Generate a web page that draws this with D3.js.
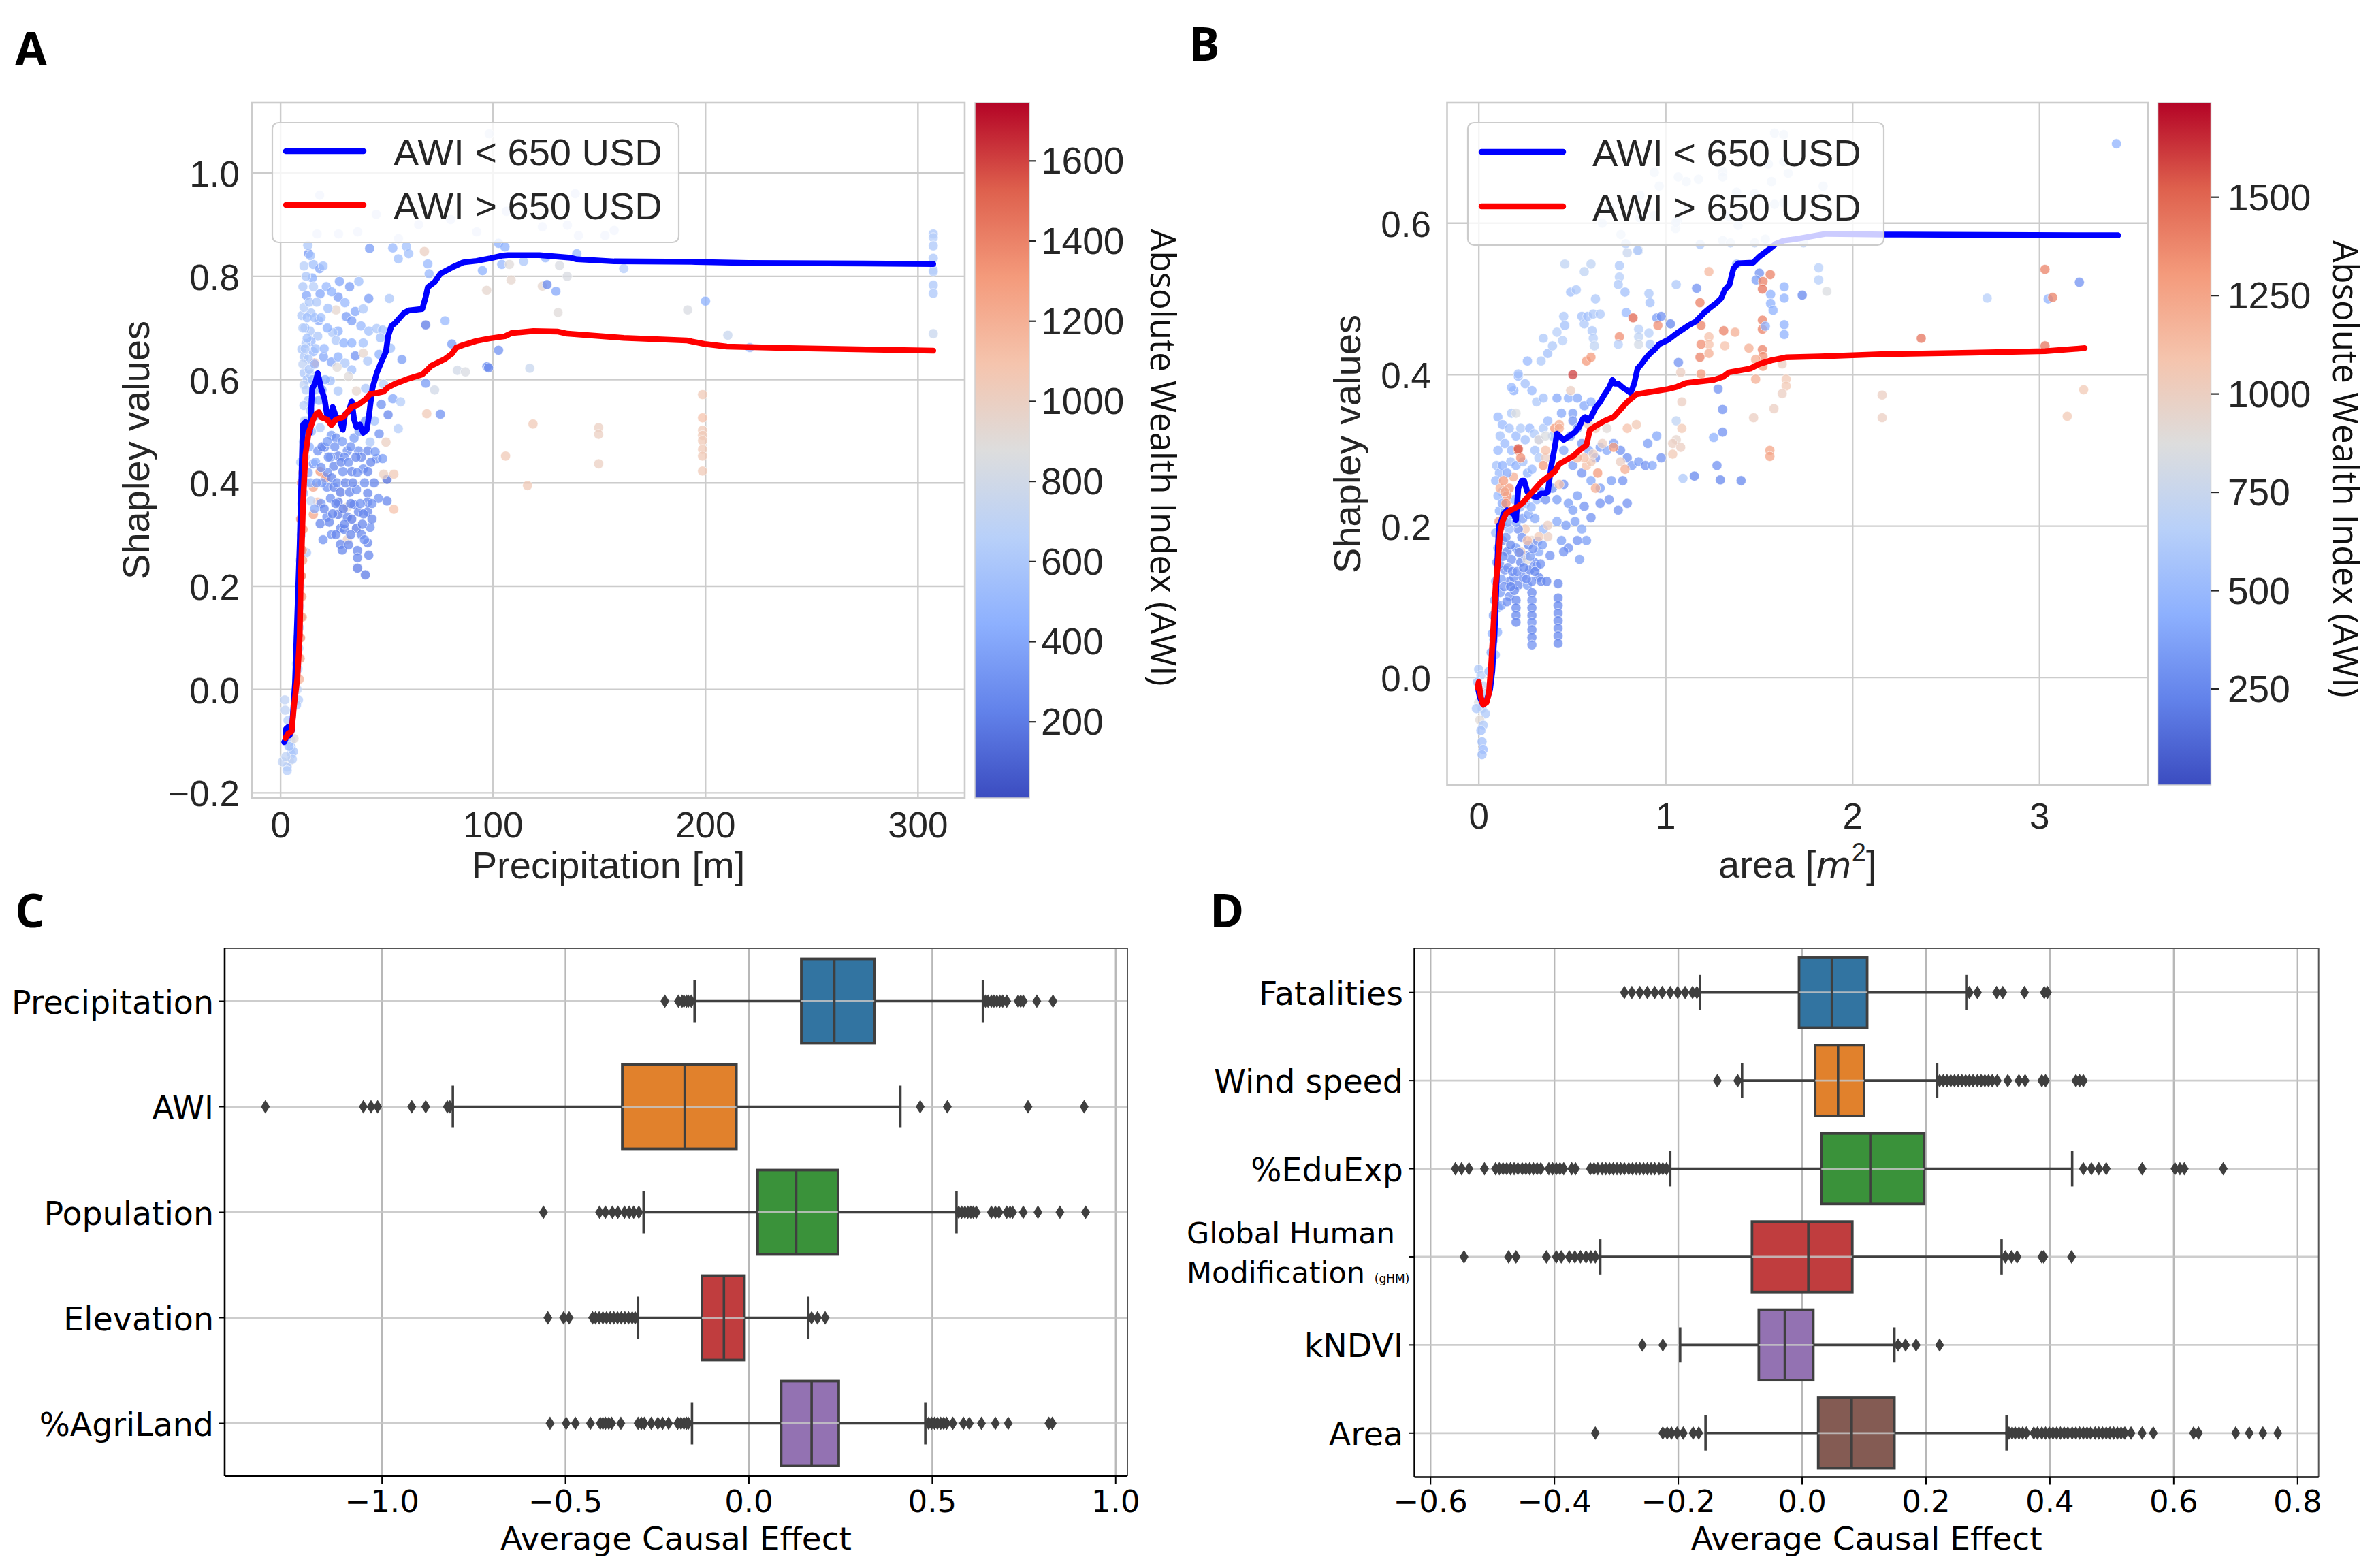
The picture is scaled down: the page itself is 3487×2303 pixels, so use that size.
<!DOCTYPE html>
<html><head><meta charset="utf-8">
<script src="https://cdn.jsdelivr.net/npm/d3@7"></script>
<style>body{margin:0;background:#fff}svg{display:block}</style>
</head><body>
<script>
// ---------------- DATA ----------------
// Panel A: [precipitation, shapley, AWI]
const pointsA = [
[13.2,0.844,300],[41.9,0.854,350],[52.8,0.855,500],[59.2,0.858,550],[55.4,0.834,550],[60.3,0.844,550],[67.7,0.848,1000],[69.3,0.824,500],[69.9,0.805,500],[15.4,0.823,550],[18.4,0.815,400],[14.9,0.797,450],[27.7,0.79,400],[32.5,0.78,350],[36.8,0.79,550],[12.2,0.763,400],[18.6,0.766,400],[27.1,0.76,350],[30.3,0.749,500],[41.5,0.757,350],[51.2,0.757,600],[26.1,0.735,950],[22.3,0.738,550],[35.2,0.732,400],[38.9,0.737,600],[30.9,0.722,350],[33.5,0.714,350],[10.0,0.724,600],[14.3,0.729,600],[18.0,0.714,400],[37.8,0.704,500],[41.5,0.694,550],[27.1,0.694,450],[24.5,0.691,600],[45.3,0.699,600],[48.0,0.696,550],[68.3,0.706,200],[77.4,0.714,500],[13.8,0.694,600],[17.5,0.684,600],[26.1,0.676,600],[29.8,0.671,450],[33.5,0.671,450],[38.9,0.671,550],[47.0,0.681,550],[51.7,0.661,550],[14.3,0.674,500],[10.0,0.659,600],[11.1,0.644,600],[15.4,0.654,500],[20.2,0.644,400],[23.9,0.634,400],[27.1,0.644,450],[30.3,0.632,600],[35.2,0.646,300],[38.9,0.651,950],[41.0,0.636,600],[46.4,0.649,450],[57.1,0.639,350],[15.9,0.632,1300],[26.6,0.624,900],[33.5,0.619,550],[11.1,0.613,600],[23.4,0.598,550],[27.1,0.578,600],[32.0,0.606,900],[35.7,0.578,950],[40.0,0.583,600],[48.5,0.591,650],[80.6,0.669,350],[83.2,0.618,800],[87.0,0.615,850],[97.1,0.625,300],[68.3,0.593,350],[72.5,0.580,800],[68.8,0.534,1050],[75.2,0.533,300],[52.8,0.563,400],[56.5,0.557,650],[47.4,0.552,300],[50.6,0.532,250],[44.2,0.520,550],[55.4,0.505,650],[46.4,0.495,300],[49.6,0.479,1000],[42.1,0.479,600],[18.6,0.507,600],[23.9,0.492,350],[26.1,0.487,300],[34.6,0.487,350],[20.7,0.469,300],[17.5,0.462,300],[27.1,0.452,250],[31.4,0.462,300],[36.7,0.462,300],[41.0,0.462,250],[45.3,0.447,300],[48.0,0.447,350],[25.0,0.432,250],[29.3,0.422,300],[33.5,0.422,250],[38.9,0.427,300],[41.0,0.422,250],[50.1,0.407,150],[48.5,0.417,1000],[53.3,0.417,1050],[15.4,0.437,300],[18.6,0.422,1300],[21.3,0.410,1350],[15.4,0.392,1250],[21.8,0.392,300],[25.0,0.392,250],[28.2,0.382,200],[32.5,0.382,250],[35.7,0.387,300],[41.0,0.380,250],[17.5,0.363,1100],[27.1,0.363,200],[31.4,0.353,950],[34.6,0.358,250],[41.0,0.363,250],[50.1,0.365,250],[53.3,0.349,1100],[15.4,0.339,1250],[21.8,0.334,300],[27.1,0.339,200],[31.4,0.334,250],[36.7,0.344,250],[41.0,0.344,250],[18.6,0.321,250],[22.9,0.324,250],[28.2,0.312,250],[35.7,0.312,200],[42.1,0.314,300],[31.4,0.29,1000],[28.2,0.281,250],[36.2,0.269,250],[41.0,0.284,250],[36.2,0.255,250],[36.2,0.235,200],[39.9,0.222,200],[12.2,0.265,600],[14.3,0.365,700],
[10.5,0.78,600],[11.5,0.70,550],[12.0,0.67,600],[12.5,0.60,550],[13.0,0.56,600],[11.0,0.55,650],[12.0,0.52,600],[10.8,0.48,650],[11.5,0.45,700],[13.5,0.47,450],[14.5,0.50,500],[15.0,0.56,550],[16.0,0.58,500],[16.5,0.66,550],[14.0,0.61,650],[13.0,0.64,600],[12.5,0.72,550],[11.0,0.74,650],[13.5,0.75,600],[16.0,0.72,550],[17.0,0.75,600],[15.5,0.78,650],[12.0,0.80,600],[14.0,0.84,550],[10.5,0.63,700],[11.0,0.59,700],[16.5,0.44,450],[13.0,0.42,400],[12.0,0.40,500],[14.0,0.40,450],[19.5,0.40,350],[19.0,0.36,300],[22.0,0.42,300],[23.5,0.45,350],[20.0,0.29,300],[24.0,0.30,300],[30.0,0.31,250],[33.0,0.30,250],[38.0,0.30,250],[30.0,0.45,300],[37.0,0.50,350],[40.0,0.52,300],[44.0,0.40,250],[46.0,0.37,300],[43.0,0.33,250],
[19.5,0.47,250],[22.5,0.45,300],[24.0,0.41,250],[26.5,0.40,300],[28.5,0.44,250],[30.5,0.40,250],[32.0,0.44,300],[34.0,0.40,250],[36.0,0.42,300],[38.0,0.45,250],[39.5,0.40,300],[42.5,0.44,250],[44.5,0.46,350],[20.5,0.35,250],[23.5,0.37,300],[26.0,0.36,250],[29.5,0.35,200],[33.0,0.36,250],[37.5,0.36,300],[39.0,0.34,250],[43.0,0.36,300],[24.5,0.34,250],[30.0,0.32,250],[33.5,0.33,200],[38.5,0.32,250],[26.0,0.30,250],[29.0,0.27,250],[32.0,0.28,250],[39.5,0.29,300],[41.5,0.26,250],[22.0,0.48,350],[25.5,0.47,300],[29.0,0.48,350],[33.0,0.47,300],[35.5,0.45,250],[19.0,0.43,300],[17.0,0.40,350],[16.0,0.35,400],
[10.5,0.70,650],[11.5,0.66,600],[12.5,0.68,550],[13.5,0.62,600],[12.0,0.58,650],[11.2,0.52,700],[13.0,0.50,550],[14.0,0.54,600],[15.0,0.60,550],[16.0,0.63,500],[17.5,0.60,450],[16.5,0.53,500],[18.0,0.56,450],[19.5,0.58,400],[21.0,0.60,450],[20.5,0.66,500],[22.0,0.70,450],[19.0,0.72,550],[21.5,0.78,500],[24.0,0.77,450],[20.0,0.82,550],[11.0,0.82,650],[12.8,0.86,600],
[9.5,0.44,600],[9.8,0.40,1300],[10.0,0.36,700],[9.5,0.33,1400],[9.8,0.30,650],[10.2,0.27,1350],[9.2,0.25,700],[9.8,0.22,1400],[9.3,0.20,750],[10.0,0.18,1300],[9.0,0.16,700],[9.6,0.14,1450],[8.8,0.12,650],[9.4,0.10,1350],[8.6,0.08,700],[9.2,0.06,1300],[8.2,0.04,650],[8.8,0.02,1200],[7.8,0.00,700],[8.4,-0.02,650],[7.5,-0.03,600],[10.5,0.42,1200],[10.6,0.31,1300],[10.4,0.25,1250],[10.2,0.14,1200],[8.0,0.10,700],[7.5,0.05,650],[10.8,0.38,500],
[5.0,-0.099,600],[5.0,-0.112,600],[5.0,-0.125,550],[4.2,-0.139,900],[3.1,-0.150,600],[3.1,-0.157,650],[0.9,-0.14,700],[2.0,-0.02,700],[2.2,-0.04,700],[6.3,-0.095,900],[4.5,-0.08,700],[3.5,-0.06,650],[2.8,-0.10,700],[6.0,-0.12,600],[4.0,-0.11,550],[5.5,-0.135,650],[2.5,-0.13,700],
[98.2,1.076,750],[138.7,0.96,700],[106.3,0.926,700],[123.2,0.896,700],[135.0,0.899,700],[140.2,0.879,700],[152.7,0.879,700],[157.0,0.889,700],[92.3,0.886,700],[102.6,0.864,450],[105.6,0.857,450],[139.4,0.844,500],[95.0,0.811,450],[104.1,0.823,500],[114.4,0.829,600],[124.7,0.836,500],[107.7,0.823,900],[131.3,0.821,850],[161.5,0.815,650],[134.9,0.80,850],[108.5,0.793,950],[97.0,0.773,950],[123.2,0.781,950],[125.4,0.784,250],[129.6,0.771,400],[130.6,0.730,900],[191.6,0.735,850],[200,0.752,450],[210.5,0.686,750],[220.8,0.662,500],[102.6,0.657,300],[97.9,0.623,250],[117.3,0.622,750],
[307.2,0.882,600],[307.2,0.875,650],[307.2,0.859,600],[307.2,0.835,600],[307.2,0.812,600],[307.2,0.809,650],[307.2,0.783,600],[307.2,0.767,600],[307.2,0.689,750],
[198.6,0.571,1050],[198.6,0.526,1100],[198.6,0.502,1050],[198.6,0.492,1050],[198.6,0.482,1050],[198.6,0.465,1050],[198.6,0.452,1050],[198.6,0.423,1050],
[118.8,0.514,1050],[149.7,0.507,1000],[149.7,0.494,1000],[149.7,0.437,1000],[105.9,0.452,1050],[116.2,0.395,1050],
[18.4,0.957,700],[27.3,0.882,700],[36.3,0.886,700],[17.2,0.882,700],[55.5,0.873,700],[65,0.90,700],[80,0.91,700],[45,0.92,700]
];
// Panel A lines: [precipitation, shapley]
const lineA_low = [[1.7,-0.102],[2.3,-0.097],[2.6,-0.076],[3.7,-0.072],[4.2,-0.089],[5.3,-0.079],[6.8,0.013],[7.9,0.147],[9.0,0.281],[9.5,0.361],[10.3,0.488],[10.6,0.513],[11.7,0.518],[12.7,0.512],[13.8,0.497],[14.9,0.583],[16.2,0.592],[17.5,0.6125],[19.1,0.583],[20.7,0.563],[21.8,0.533],[23.4,0.523],[24.5,0.547],[26.1,0.528],[27.7,0.523],[29.3,0.503],[30.3,0.533],[32.0,0.538],[33.5,0.558],[34.6,0.523],[35.7,0.508],[37.3,0.513],[38.9,0.497],[40.5,0.502],[41.5,0.527],[43.2,0.583],[45.3,0.613],[47.4,0.634],[49.6,0.654],[50.6,0.684],[52.2,0.704],[53.8,0.709],[58.1,0.729],[60.3,0.734],[66.7,0.737],[68.3,0.760],[69.3,0.779],[72.5,0.789],[75.2,0.805],[80.6,0.817],[85.9,0.827],[92.3,0.830],[98.7,0.835],[104.1,0.840],[107.0,0.841],[121.8,0.841],[136.5,0.836],[139.4,0.833],[157.0,0.829],[195.3,0.828],[220.3,0.826],[307.2,0.824]];
const lineA_high = [[2.3,-0.094],[3.6,-0.085],[5.2,-0.081],[6.3,-0.032],[7.9,0.022],[9.0,0.102],[9.5,0.214],[10.0,0.281],[10.6,0.361],[11.7,0.454],[13.2,0.497],[15.4,0.523],[17.0,0.535],[18.0,0.537],[19.1,0.527],[21.8,0.523],[23.9,0.512],[26.1,0.523],[29.3,0.527],[31.4,0.537],[33.5,0.547],[36.8,0.552],[40.0,0.562],[42.1,0.572],[45.3,0.574],[48.5,0.577],[50.6,0.585],[53.8,0.592],[60.3,0.602],[66.7,0.610],[68.8,0.618],[71.0,0.627],[77.4,0.640],[80.6,0.650],[82.7,0.662],[85.9,0.667],[92.3,0.675],[98.7,0.680],[105.6,0.684],[108.6,0.690],[119,0.694],[130.6,0.693],[135,0.689],[161.5,0.681],[191,0.676],[199.7,0.669],[210,0.664],[239.5,0.661],[307.2,0.656]];

// Panel B: [area, shapley, AWI]
const pointsB = [
[-0.001,0.011,600],[0.011,0.003,650],[-0.007,-0.006,550],[0.023,-0.011,700],[0.005,-0.016,800],[0.029,-0.026,650],[-0.001,-0.033,850],[0.017,-0.041,700],[0.035,-0.048,600],[0.005,-0.056,900],[0.023,-0.063,600],[0.011,-0.070,550],[0.017,-0.085,550],[0.023,-0.095,500],[0.017,-0.102,550],[-0.013,-0.041,600],[0.041,-0.021,700],
[0.054,0.008,500],[0.066,0.033,400],[0.072,0.058,450],[0.078,0.082,350],[0.084,0.102,400],[0.090,0.127,450],[0.096,0.152,350],[0.102,0.171,400],[0.090,0.191,500],[0.108,0.206,1300],
[0.126,0.181,300],[0.151,0.166,250],[0.175,0.156,300],[0.199,0.171,350],[0.224,0.152,250],[0.248,0.161,300],[0.272,0.142,250],[0.296,0.152,300],[0.321,0.132,250],[0.139,0.142,300],[0.163,0.127,250],[0.187,0.132,300],[0.211,0.122,250],[0.236,0.132,300],[0.260,0.122,350],[0.284,0.127,300],[0.309,0.147,300],[0.333,0.127,250],[0.114,0.112,350],[0.163,0.107,300],[0.102,0.092,400],[0.199,0.102,250],[0.260,0.156,900],[0.284,0.181,950],[0.369,0.186,1000],[0.248,0.196,1050],[0.211,0.196,300],[0.163,0.196,500],[0.126,0.201,400],[0.345,0.196,500],[0.321,0.166,400],[0.224,0.166,1050],[0.363,0.127,250],[0.424,0.124,250],[0.381,0.161,300],
[0.110,0.150,300],[0.120,0.130,350],[0.130,0.160,250],[0.145,0.185,300],[0.155,0.145,300],[0.170,0.175,250],[0.180,0.140,300],[0.190,0.115,250],[0.205,0.140,300],[0.215,0.165,250],[0.230,0.185,300],[0.240,0.145,250],[0.255,0.130,300],[0.265,0.175,250],[0.275,0.160,350],[0.290,0.170,300],[0.300,0.140,250],[0.315,0.180,300],[0.330,0.150,300],[0.340,0.175,350],[0.120,0.095,350],[0.135,0.120,300],[0.150,0.100,300],[0.170,0.120,250],[0.110,0.220,450],[0.125,0.245,500],[0.140,0.220,400],[0.155,0.205,350],[0.175,0.215,450],[0.190,0.235,500],[0.200,0.205,400],[0.220,0.225,450],[0.235,0.210,350],[0.250,0.230,500],[0.265,0.215,400],[0.280,0.225,450],[0.300,0.210,400],[0.310,0.235,500],[0.095,0.280,550],[0.110,0.270,500],[0.185,0.265,1200],[0.170,0.285,550],[0.260,0.270,450],[0.300,0.300,550],[0.080,0.050,500],[0.088,0.030,550],[0.100,0.060,450],
[0.199,0.092,250],[0.199,0.082,250],[0.199,0.073,250],
[0.284,0.112,250],[0.284,0.102,300],[0.284,0.092,250],[0.284,0.082,250],[0.284,0.073,300],[0.284,0.063,250],[0.284,0.053,250],[0.284,0.043,300],
[0.424,0.105,250],[0.424,0.095,250],[0.424,0.085,250],[0.424,0.075,250],[0.424,0.065,250],[0.424,0.055,250],[0.424,0.045,250],
[0.460,0.546,700],[0.491,0.509,550],[0.521,0.512,600],[0.564,0.536,700],[0.600,0.546,700],[0.624,0.500,600],[0.752,0.544,600],[0.752,0.529,650],[0.746,0.519,600],[0.782,0.509,550],[0.788,0.482,500],[0.825,0.475,1500],[0.794,0.561,750],[0.855,0.564,750],[0.454,0.477,600],[0.460,0.465,550],[0.551,0.477,550],[0.564,0.467,600],[0.582,0.477,550],[0.612,0.480,600],[0.649,0.480,600],[0.606,0.458,600],[0.612,0.448,650],[0.618,0.438,700],[0.448,0.445,650],[0.752,0.450,1350],[0.746,0.440,650],[0.855,0.460,650],[0.855,0.450,700],[0.855,0.440,800],[0.910,0.507,600],[0.916,0.495,550],[0.910,0.455,650],[0.916,0.440,600],[0.952,0.475,350],[0.958,0.465,1350],[0.976,0.477,300],[1.025,0.467,250],[1.056,0.519,600],[1.165,0.514,300],[1.183,0.495,1400],[1.189,0.465,1400],[1.231,0.536,1150],[1.231,0.450,1100],[1.231,0.440,1100],[1.231,0.428,1200],[1.189,0.440,1350],[1.183,0.423,1400],[1.310,0.458,1400],[1.316,0.438,1100],[1.068,0.416,300],[1.080,0.403,1000],[1.086,0.364,1000],[1.189,0.401,1300],[1.280,0.381,300],[1.304,0.354,300],[1.304,0.324,300],[1.256,0.317,450],[1.056,0.339,700],[1.056,0.314,950],[1.086,0.329,1050],[1.037,0.309,1000],[1.037,0.295,1050],[1.080,0.304,1000],[1.274,0.280,300],[1.292,0.261,250],[1.092,0.263,600],[1.153,0.266,250],
[3.411,0.705,450],[3.029,0.539,1400],[3.213,0.522,300],[2.720,0.501,650],[3.046,0.500,450],[3.070,0.502,1400],[2.367,0.448,1450],[3.029,0.438,1450],[2.158,0.373,1000],[2.158,0.343,1000],[3.236,0.380,1050],[3.148,0.345,1050],[1.818,0.541,650],[1.818,0.525,650],[1.862,0.510,850],[1.730,0.505,250],[1.634,0.516,450],[1.634,0.501,450],[1.634,0.466,450],[1.634,0.453,450],[1.559,0.532,1400],[1.501,0.534,300],[1.484,0.525,350],[1.520,0.523,1400],[1.517,0.513,1450],[1.561,0.506,450],[1.561,0.494,450],[1.574,0.485,450],[1.517,0.472,1400],[1.517,0.460,1400],[1.533,0.464,450],[1.517,0.433,1400],[1.520,0.424,1350],[1.520,0.411,1300],[1.445,0.435,1200],[1.481,0.420,1200],[1.481,0.394,1200],[1.623,0.414,1000],[1.644,0.394,1050],[1.644,0.385,1050],[1.623,0.375,1000],[1.579,0.355,1000],[1.470,0.343,1000],[1.557,0.300,1250],[1.557,0.292,1250],[1.403,0.260,250],[1.379,0.546,550],[1.371,0.456,1200],
[1.582,0.719,700],[1.631,0.717,700],[1.305,0.668,700],[1.305,0.661,700],[1.175,0.658,700],[1.110,0.655,700],[1.566,0.655,700],[1.655,0.666,700],[1.631,0.681,700],[1.549,0.678,700],[1.379,0.641,700],[1.476,0.639,700],[1.842,0.649,700],[1.338,0.609,700],[1.387,0.597,700],[1.053,0.593,700],[1.062,0.604,700],[1.305,0.577,700],[1.346,0.574,700],[1.476,0.574,700],[1.533,0.579,700],[1.184,0.572,600],[1.737,0.574,700],[1.631,0.627,700],[1.582,0.625,700],
[0.939,0.667,700],[0.965,0.649,700],[0.862,0.637,700],[1.067,0.661,700],[0.786,0.573,650],[0.850,0.564,600],[0.760,0.585,700],[1.118,0.619,700],[1.054,0.601,700],[0.862,0.607,700],[0.939,0.610,700],[0.70,0.62,700],[0.66,0.60,700],
[0.102,0.344,500],[0.126,0.334,500],[0.114,0.319,550],[0.139,0.309,500],[0.163,0.329,550],[0.175,0.349,600],[0.199,0.319,500],[0.224,0.329,600],[0.248,0.314,550],[0.272,0.329,500],[0.296,0.322,600],[0.321,0.314,550],[0.345,0.329,600],[0.369,0.339,500],[0.394,0.319,550],[0.187,0.379,450],[0.211,0.398,500],[0.248,0.388,550],[0.284,0.379,500],[0.309,0.364,600],[0.345,0.369,550],[0.175,0.300,500],[0.199,0.280,450],[0.236,0.285,550],[0.284,0.275,500],[0.321,0.290,600],[0.102,0.300,500],[0.126,0.280,450],[0.151,0.270,400],[0.090,0.260,500],[0.102,0.240,500],[0.126,0.230,400],[0.163,0.250,1300],[0.151,0.240,1350],[0.114,0.250,1200],[0.211,0.300,1300],[0.224,0.290,1350],[0.199,0.349,850],[0.321,0.314,900],[0.357,0.290,1000],[0.406,0.329,1300],[0.430,0.334,1200],[0.418,0.369,400],[0.442,0.349,400],[0.479,0.369,450],[0.503,0.349,350],[0.527,0.369,400],[0.564,0.359,400],[0.600,0.364,450],[0.454,0.300,400],[0.491,0.319,350],[0.503,0.339,300],[0.527,0.329,350],[0.551,0.309,300],[0.588,0.300,400],[0.624,0.290,300],[0.649,0.304,350],[0.685,0.300,400],[0.721,0.309,350],[0.758,0.300,300],[0.794,0.290,300],[0.819,0.280,350],[0.855,0.285,350],[0.891,0.280,300],[0.928,0.280,400],[0.976,0.290,300],[0.904,0.309,350],[0.952,0.319,400],[0.503,0.280,350],[0.551,0.270,300],[0.600,0.260,400],[0.649,0.250,350],[0.697,0.235,300],[0.746,0.221,300],[0.794,0.230,300],[0.770,0.260,300],[0.709,0.260,350],[0.527,0.240,350],[0.564,0.226,300],[0.600,0.211,300],[0.649,0.230,300],[0.454,0.255,300],[0.479,0.230,350],[0.394,0.250,300],[0.418,0.235,350],[0.357,0.235,300],[0.333,0.245,400],[0.418,0.206,400],[0.466,0.201,350],[0.515,0.206,350],[0.551,0.196,400],[0.576,0.181,350],[0.527,0.181,300],[0.479,0.171,300],[0.442,0.181,350],[0.539,0.156,350],[0.454,0.166,300],[0.503,0.221,350],[0.588,0.334,1000],[0.576,0.280,1100],[0.600,0.285,1050],[0.636,0.270,1300],[0.624,0.250,1200],[0.661,0.309,1000],[0.721,0.304,1300],[0.758,0.285,1000],[0.782,0.275,1200],[0.794,0.329,1100],[0.843,0.334,1050],[0.685,0.329,900],[0.576,0.418,1300],[0.600,0.423,1300],[0.503,0.400,1600],[0.430,0.329,1200],[0.345,0.280,1300],[0.357,0.300,1100],[0.430,0.255,1100],[0.624,0.329,1050],[0.564,0.290,1100],[0.612,0.295,1000],[0.527,0.290,1200],[0.357,0.319,850],[0.491,0.379,1000],[0.321,0.186,1050],[0.369,0.201,1000],[0.260,0.181,1100],[0.139,0.245,1250],[0.132,0.260,1300],[0.145,0.230,1350],[0.211,0.302,1550],
[0.211,0.401,550],[0.175,0.383,500],[0.260,0.418,500],[0.333,0.418,600],[0.369,0.428,550],[0.394,0.438,600],[0.345,0.448,600],[0.418,0.456,650]
];
const lineB_low = [[-0.007,-0.011],[0.005,-0.026],[0.023,-0.036],[0.041,-0.031],[0.060,-0.016],[0.072,0.0085],[0.084,0.058],[0.092,0.107],[0.102,0.171],[0.108,0.201],[0.114,0.201],[0.132,0.216],[0.151,0.221],[0.169,0.218],[0.187,0.216],[0.199,0.208],[0.211,0.250],[0.230,0.260],[0.242,0.260],[0.260,0.245],[0.284,0.240],[0.309,0.238],[0.333,0.243],[0.351,0.243],[0.369,0.245],[0.388,0.280],[0.406,0.304],[0.418,0.322],[0.430,0.319],[0.454,0.314],[0.485,0.319],[0.515,0.324],[0.539,0.332],[0.557,0.342],[0.570,0.344],[0.582,0.339],[0.600,0.344],[0.624,0.356],[0.649,0.364],[0.673,0.374],[0.697,0.383],[0.715,0.393],[0.727,0.388],[0.746,0.388],[0.770,0.383],[0.794,0.379],[0.812,0.376],[0.831,0.388],[0.849,0.408],[0.867,0.413],[0.891,0.421],[0.916,0.428],[0.940,0.433],[0.964,0.440],[0.989,0.443],[1.013,0.446],[1.061,0.455],[1.086,0.459],[1.122,0.465],[1.159,0.470],[1.207,0.482],[1.231,0.487],[1.268,0.494],[1.297,0.501],[1.316,0.512],[1.341,0.519],[1.362,0.540],[1.387,0.547],[1.468,0.548],[1.501,0.556],[1.550,0.565],[1.590,0.573],[1.631,0.577],[1.696,0.579],[1.810,0.584],[1.858,0.586],[2.176,0.585],[3.420,0.584]];
const lineB_high = [[-0.007,-0.014],[-0.001,-0.006],[0.011,-0.026],[0.023,-0.036],[0.041,-0.033],[0.054,-0.021],[0.066,0.018],[0.078,0.068],[0.090,0.122],[0.102,0.152],[0.114,0.191],[0.126,0.206],[0.145,0.216],[0.169,0.221],[0.187,0.223],[0.211,0.226],[0.236,0.231],[0.260,0.238],[0.297,0.248],[0.333,0.258],[0.369,0.265],[0.406,0.272],[0.430,0.282],[0.466,0.287],[0.503,0.292],[0.539,0.300],[0.576,0.307],[0.594,0.327],[0.624,0.332],[0.673,0.339],[0.721,0.344],[0.758,0.354],[0.794,0.364],[0.843,0.374],[0.891,0.376],[0.964,0.379],[1.013,0.381],[1.061,0.384],[1.110,0.389],[1.183,0.391],[1.256,0.393],[1.306,0.397],[1.338,0.403],[1.452,0.408],[1.501,0.414],[1.566,0.419],[1.647,0.423],[1.826,0.424],[2.151,0.427],[2.639,0.429],[3.030,0.431],[3.241,0.435]];

const legendLabels = ["AWI < 650 USD", "AWI > 650 USD"];
const ticksA_x = [0,100,200,300], ticksA_y = [-0.2,0,0.2,0.4,0.6,0.8,1.0], ticksA_c = [200,400,600,800,1000,1200,1400,1600];
const ticksB_x = [0,1,2,3], ticksB_y = [0,0.2,0.4,0.6], ticksB_c = [250,500,750,1000,1250,1500];

// Panel C boxplots
const catsC = ["Precipitation","AWI","Population","Elevation","%AgriLand"];
const q1C = [0.143,-0.345,0.024,-0.128,0.088];
const medC = [0.233,-0.175,0.129,-0.068,0.171];
const q3C = [0.342,-0.034,0.243,-0.012,0.245];
const wloC = [-0.148,-0.807,-0.287,-0.302,-0.155];
const whiC = [0.638,0.413,0.566,0.162,0.481];
const fliersC = [
 [-0.229,-0.192,-0.182,-0.177,-0.170,-0.165,-0.157,0.645,0.652,0.661,0.668,0.676,0.684,0.692,0.703,0.734,0.741,0.748,0.785,0.829],
 [-1.318,-1.051,-1.03,-1.012,-0.919,-0.881,-0.822,-0.815,0.467,0.541,0.761,0.914],
 [-0.560,-0.407,-0.391,-0.372,-0.357,-0.339,-0.326,-0.314,-0.30,0.572,0.580,0.589,0.597,0.605,0.612,0.620,0.661,0.672,0.682,0.703,0.712,0.719,0.748,0.788,0.848,0.918],
 [-0.548,-0.505,-0.490,-0.426,-0.418,-0.408,-0.398,-0.388,-0.378,-0.368,-0.358,-0.348,-0.338,-0.328,-0.318,-0.310,0.171,0.187,0.208],
 [-0.542,-0.498,-0.473,-0.432,-0.405,-0.398,-0.391,-0.382,-0.374,-0.349,-0.302,-0.293,-0.285,-0.266,-0.248,-0.235,-0.219,-0.194,-0.185,-0.177,-0.170,-0.165,0.49,0.498,0.506,0.514,0.523,0.531,0.539,0.556,0.585,0.601,0.634,0.672,0.707,0.818,0.827]
];
const ticksC = [-1.0,-0.5,0.0,0.5,1.0];

// Panel D boxplots
const catsD = ["Fatalities","Wind speed","%EduExp","gHM","kNDVI","Area"];
const q1D = [-0.005,0.021,0.031,-0.081,-0.070,0.026];
const medD = [0.048,0.058,0.110,0.010,-0.028,0.080];
const q3D = [0.105,0.100,0.197,0.081,0.018,0.149];
const wloD = [-0.165,-0.097,-0.213,-0.326,-0.197,-0.156];
const whiD = [0.265,0.218,0.436,0.322,0.149,0.330];
const fliersD = [
 [-0.287,-0.275,-0.262,-0.250,-0.238,-0.226,-0.213,-0.201,-0.189,-0.177,-0.170,0.270,0.283,0.314,0.324,0.359,0.391,0.396],
 [-0.137,-0.104,0.222,0.228,0.234,0.240,0.246,0.252,0.258,0.264,0.270,0.276,0.283,0.289,0.295,0.301,0.307,0.315,0.332,0.350,0.360,0.387,0.393,0.442,0.448,0.454],
 [-0.560,-0.550,-0.538,-0.513,-0.495,-0.489,-0.483,-0.477,-0.471,-0.465,-0.459,-0.452,-0.446,-0.440,-0.434,-0.428,-0.422,-0.409,-0.403,-0.397,-0.391,-0.385,-0.372,-0.366,-0.342,-0.336,-0.330,-0.323,-0.317,-0.311,-0.305,-0.299,-0.293,-0.287,-0.280,-0.274,-0.268,-0.262,-0.256,-0.250,-0.244,-0.238,-0.231,-0.225,-0.219,0.454,0.467,0.479,0.491,0.549,0.602,0.610,0.617,0.680],
 [-0.546,-0.474,-0.462,-0.413,-0.397,-0.389,-0.376,-0.367,-0.358,-0.349,-0.341,-0.334,0.328,0.338,0.347,0.387,0.390,0.435],
 [-0.258,-0.225,0.155,0.167,0.184,0.222],
 [-0.334,-0.225,-0.218,-0.211,-0.202,-0.192,-0.176,-0.167,0.334,0.339,0.344,0.350,0.356,0.362,0.374,0.380,0.387,0.393,0.399,0.405,0.411,0.417,0.423,0.429,0.436,0.442,0.448,0.454,0.460,0.466,0.473,0.479,0.485,0.491,0.497,0.503,0.509,0.515,0.521,0.531,0.549,0.567,0.632,0.640,0.700,0.722,0.744,0.768]
];
const ticksD = [-0.6,-0.4,-0.2,0.0,0.2,0.4,0.6,0.8];

// ---------------- STYLE ----------------
const coolwarmStops = ["#3b4cc0","#6282ea","#8db0fe","#b8d0f9","#dddddd","#f5c4ad","#f49a7b","#de604d","#b40426"];
const boxColors = ["#3274a1","#e1812c","#3a923a","#c03d3e","#9372b2","#845b53"];
const ARIAL = "'Liberation Sans', Arial, sans-serif";
const DEJAVU = "'DejaVu Sans', sans-serif";
const TXT = "#262626";
const fmt1 = d3.format(".1f");

const W = 3487, H = 2303;
const svg = d3.select("body").append("svg").attr("width", W).attr("height", H);
svg.append("rect").attr("width", W).attr("height", H).attr("fill", "#fff");
const defs = svg.append("defs");

function coolwarm(dom) {
  const [a, b] = dom, n = coolwarmStops.length - 1;
  return d3.scaleLinear().domain(coolwarmStops.map((c, i) => a + (b - a) * i / n))
    .range(coolwarmStops).interpolate(d3.interpolateRgb).clamp(true);
}

function scatterPanel(o) {
  const p = o.plot;
  const g = svg.append("g");
  const x = d3.scaleLinear().domain(o.xDomain).range([p.x0, p.x1]);
  const y = d3.scaleLinear().domain(o.yDomain).range([p.y1, p.y0]);
  const col = coolwarm(o.cDomain);
  g.append("g").selectAll("line").data(o.xTicks).join("line")
    .attr("x1", d => x(d)).attr("x2", d => x(d)).attr("y1", p.y0).attr("y2", p.y1)
    .attr("stroke", "#cccccc").attr("stroke-width", 2.4);
  g.append("g").selectAll("line").data(o.yTicks).join("line")
    .attr("y1", d => y(d)).attr("y2", d => y(d)).attr("x1", p.x0).attr("x2", p.x1)
    .attr("stroke", "#cccccc").attr("stroke-width", 2.4);
  defs.append("clipPath").attr("id", "clip" + o.id).append("rect")
    .attr("x", p.x0).attr("y", p.y0).attr("width", p.x1 - p.x0).attr("height", p.y1 - p.y0);
  const pg = g.append("g").attr("clip-path", `url(#clip${o.id})`);
  pg.selectAll("circle").data(o.points).join("circle")
    .attr("cx", d => x(d[0])).attr("cy", d => y(d[1])).attr("r", 7.2)
    .attr("fill", d => col(d[2])).attr("fill-opacity", 0.75)
    .attr("stroke", "#fff").attr("stroke-width", 0.9).attr("stroke-opacity", 0.7);
  const line = d3.line().x(d => x(d[0])).y(d => y(d[1]));
  pg.append("path").datum(o.low).attr("d", line).attr("fill", "none").attr("stroke", "#0000ff")
    .attr("stroke-width", 8.5).attr("stroke-linejoin", "round").attr("stroke-linecap", "round");
  pg.append("path").datum(o.high).attr("d", line).attr("fill", "none").attr("stroke", "#ff0000")
    .attr("stroke-width", 8.5).attr("stroke-linejoin", "round").attr("stroke-linecap", "round");
  g.append("rect").attr("x", p.x0).attr("y", p.y0).attr("width", p.x1 - p.x0).attr("height", p.y1 - p.y0)
    .attr("fill", "none").attr("stroke", "#cccccc").attr("stroke-width", 2.6);
  g.append("g").selectAll("text").data(o.xTicks).join("text")
    .attr("x", d => x(d)).attr("y", o.xLabelBase).attr("text-anchor", "middle")
    .attr("font-family", ARIAL).attr("font-size", 53).attr("fill", TXT).text(d => o.xFmt(d));
  g.append("g").selectAll("text").data(o.yTicks).join("text")
    .attr("x", o.yLabelRight).attr("y", d => y(d) + 20).attr("text-anchor", "end")
    .attr("font-family", ARIAL).attr("font-size", 53).attr("fill", TXT).text(d => fmt1(d));
  const xl = g.append("text").attr("x", (p.x0 + p.x1) / 2).attr("y", o.xTitleBase).attr("text-anchor", "middle")
    .attr("font-family", ARIAL).attr("font-size", 56).attr("fill", TXT);
  o.xTitle(xl);
  g.append("text").attr("transform", `translate(${o.yTitleBase},${o.yTitleMid}) rotate(-90)`)
    .attr("text-anchor", "middle").attr("font-family", ARIAL).attr("font-size", 56).attr("fill", TXT)
    .text("Shapley values");
  const L = o.legend;
  g.append("rect").attr("x", L.x).attr("y", L.y).attr("width", L.w).attr("height", L.h).attr("rx", 9)
    .attr("fill", "#fff").attr("fill-opacity", 0.8).attr("stroke", "#cccccc").attr("stroke-width", 2.2);
  [["#0000ff", L.ly[0]], ["#ff0000", L.ly[1]]].forEach(([c, ly], i) => {
    g.append("line").attr("x1", L.lx0).attr("x2", L.lx1).attr("y1", ly).attr("y2", ly)
      .attr("stroke", c).attr("stroke-width", 8.5).attr("stroke-linecap", "round");
    g.append("text").attr("x", L.tx).attr("y", ly + 21).attr("font-family", ARIAL).attr("font-size", 56)
      .attr("fill", TXT).text(legendLabels[i]);
  });
  const C = o.cbar;
  const gid = "grad" + o.id;
  const grad = defs.append("linearGradient").attr("id", gid).attr("x1", 0).attr("y1", 1).attr("x2", 0).attr("y2", 0);
  coolwarmStops.forEach((c, i) => grad.append("stop").attr("offset", i / (coolwarmStops.length - 1)).attr("stop-color", c));
  g.append("rect").attr("x", C.x0).attr("y", C.y0).attr("width", C.x1 - C.x0).attr("height", C.y1 - C.y0)
    .attr("fill", `url(#${gid})`).attr("stroke", "#d0d0d0").attr("stroke-width", 1.5);
  const cs = d3.scaleLinear().domain(o.cDomain).range([C.y1, C.y0]);
  g.append("g").selectAll("line").data(o.cTicks).join("line")
    .attr("x1", C.x1).attr("x2", C.x1 + C.tick).attr("y1", d => cs(d)).attr("y2", d => cs(d))
    .attr("stroke", TXT).attr("stroke-width", 2.2);
  g.append("g").selectAll("text").data(o.cTicks).join("text")
    .attr("x", C.lx).attr("y", d => cs(d) + 19).attr("font-family", ARIAL).attr("font-size", 55)
    .attr("fill", TXT).text(d => d);
  g.append("text").attr("transform", `translate(${C.titleX},${C.titleY}) rotate(90)`)
    .attr("text-anchor", "middle").attr("dominant-baseline", "central")
    .attr("font-family", "'Open Sans', sans-serif").attr("font-size", 51).attr("fill", "#111")
    .text("Absolute Wealth Index (AWI)");
}

scatterPanel({
  id: "A", plot: {x0: 370, x1: 1417, y0: 151, y1: 1172},
  xDomain: [-13.5, 322], yDomain: [-0.21, 1.136], cDomain: [10, 1745],
  xTicks: ticksA_x, yTicks: ticksA_y, cTicks: ticksA_c, xFmt: d => d,
  points: pointsA, low: lineA_low, high: lineA_high,
  xLabelBase: 1230, yLabelRight: 352,
  xTitleBase: 1290, xTitle: t => t.text("Precipitation [m]"),
  yTitleBase: 219, yTitleMid: 661,
  legend: {x: 400, y: 180, w: 597, h: 176, lx0: 420, lx1: 534, ly: [222, 301], tx: 578},
  cbar: {x0: 1432, x1: 1512, y0: 151, y1: 1172, tick: 10, lx: 1529, titleX: 1710, titleY: 672}
});
scatterPanel({
  id: "B", plot: {x0: 2125.5, x1: 3155, y0: 151, y1: 1153},
  xDomain: [-0.17, 3.58], yDomain: [-0.142, 0.759], cDomain: [6, 1740],
  xTicks: ticksB_x, yTicks: ticksB_y, cTicks: ticksB_c, xFmt: d => d,
  points: pointsB, low: lineB_low, high: lineB_high,
  xLabelBase: 1217, yLabelRight: 2102,
  xTitleBase: 1289, xTitle: t => {
    t.append("tspan").text("area [");
    t.append("tspan").attr("font-family", DEJAVU).attr("font-style", "italic").attr("font-size", 54).text("m");
    t.append("tspan").attr("font-size", 38).attr("dy", -24).text("2");
    t.append("tspan").attr("dy", 24).text("]");
  },
  yTitleBase: 1998, yTitleMid: 652,
  legend: {x: 2156, y: 180, w: 611, h: 180, lx0: 2176, lx1: 2296, ly: [223, 303], tx: 2339},
  cbar: {x0: 3169.5, x1: 3247.5, y0: 151, y1: 1153, tick: 12, lx: 3272, titleX: 3447, titleY: 689}
});

// ---------------- BOX PANELS ----------------
const DARK = "#3f3f3f";
const diamond = "M0,-10L6.5,0L0,10L-6.5,0Z";
function boxPanel(o) {
  const p = o.plot;
  const g = svg.append("g");
  const x = d3.scaleLinear().domain(o.xDomain).range([p.x0, p.x1]);
  const y = d3.scaleBand().domain(o.cats).range([p.y0, p.y1]).padding(0);
  const bw = y.bandwidth() * 0.8;
  const cy = d => y(d) + y.bandwidth() / 2;
  g.append("g").selectAll("line").data(o.ticks).join("line")
    .attr("x1", d => x(d)).attr("x2", d => x(d)).attr("y1", p.y0).attr("y2", p.y1)
    .attr("stroke", "#b8b8b8").attr("stroke-width", 2.4);
  const rows = o.cats.map((c, i) => ({c, i, q1: o.q1[i], med: o.med[i], q3: o.q3[i], lo: o.wlo[i], hi: o.whi[i], fl: o.fliers[i]}));
  g.append("g").selectAll("rect").data(rows).join("rect")
    .attr("x", d => x(d.q1)).attr("width", d => x(d.q3) - x(d.q1))
    .attr("y", d => cy(d.c) - bw / 2).attr("height", bw)
    .attr("fill", d => boxColors[d.i]).attr("stroke", DARK).attr("stroke-width", 3.8);
  g.append("g").selectAll("line").data(o.cats).join("line")
    .attr("x1", p.x0).attr("x2", p.x1).attr("y1", d => cy(d)).attr("y2", d => cy(d))
    .attr("stroke", "#c4c4c4").attr("stroke-width", 2.8).attr("stroke-opacity", 0.85);
  const wk = g.append("g").attr("stroke", DARK).attr("stroke-width", 3.6);
  rows.forEach(d => {
    const yc = cy(d.c);
    wk.append("line").attr("x1", x(d.lo)).attr("x2", x(d.q1)).attr("y1", yc).attr("y2", yc);
    wk.append("line").attr("x1", x(d.q3)).attr("x2", x(d.hi)).attr("y1", yc).attr("y2", yc);
    wk.append("line").attr("x1", x(d.lo)).attr("x2", x(d.lo)).attr("y1", yc - bw / 4).attr("y2", yc + bw / 4);
    wk.append("line").attr("x1", x(d.hi)).attr("x2", x(d.hi)).attr("y1", yc - bw / 4).attr("y2", yc + bw / 4);
    wk.append("line").attr("x1", x(d.med)).attr("x2", x(d.med)).attr("y1", yc - bw / 2).attr("y2", yc + bw / 2);
    g.append("g").selectAll("path").data(d.fl).join("path")
      .attr("d", diamond).attr("transform", v => `translate(${x(v)},${yc})`).attr("fill", DARK);
  });
  g.append("line").attr("x1", p.x0).attr("x2", p.x1).attr("y1", p.y0).attr("y2", p.y0).attr("stroke", "#555").attr("stroke-width", 2);
  g.append("line").attr("x1", p.x1).attr("x2", p.x1).attr("y1", p.y0).attr("y2", p.y1).attr("stroke", "#555").attr("stroke-width", 2);
  g.append("line").attr("x1", p.x0).attr("x2", p.x0).attr("y1", p.y0).attr("y2", p.y1).attr("stroke", "#000").attr("stroke-width", 2.6);
  g.append("line").attr("x1", p.x0).attr("x2", p.x1).attr("y1", p.y1).attr("y2", p.y1).attr("stroke", "#000").attr("stroke-width", 2.6);
  g.append("g").selectAll("line").data(o.ticks).join("line")
    .attr("x1", d => x(d)).attr("x2", d => x(d)).attr("y1", p.y1).attr("y2", p.y1 + 11)
    .attr("stroke", "#000").attr("stroke-width", 2);
  g.append("g").selectAll("text").data(o.ticks).join("text")
    .attr("x", d => x(d)).attr("y", 2221).attr("text-anchor", "middle")
    .attr("font-family", DEJAVU).attr("font-size", 45).attr("fill", "#000").text(d => fmt1(d));
  g.append("g").selectAll("line").data(o.cats).join("line")
    .attr("x1", p.x0 - 8).attr("x2", p.x0).attr("y1", d => cy(d)).attr("y2", d => cy(d))
    .attr("stroke", "#000").attr("stroke-width", 2);
  g.append("g").selectAll("text").data(o.cats.filter(c => c !== "gHM")).join("text")
    .attr("x", o.labelRight).attr("y", d => cy(d) + 18).attr("text-anchor", "end")
    .attr("font-family", DEJAVU).attr("font-size", 47.5).attr("fill", "#000").text(d => d);
  g.append("text").attr("x", (p.x0 + p.x1) / 2).attr("y", 2276).attr("text-anchor", "middle")
    .attr("font-family", DEJAVU).attr("font-size", 47).attr("fill", "#000").text("Average Causal Effect");
}

boxPanel({plot: {x0: 330, x1: 1656, y0: 1393, y1: 2168}, xDomain: [-1.429, 1.032], ticks: ticksC,
  cats: catsC, q1: q1C, med: medC, q3: q3C, wlo: wloC, whi: whiC, fliers: fliersC, labelRight: 314});
boxPanel({plot: {x0: 2077.6, x1: 3405.7, y0: 1393, y1: 2169.5}, xDomain: [-0.626, 0.834], ticks: ticksD,
  cats: catsD, q1: q1D, med: medD, q3: q3D, wlo: wloD, whi: whiD, fliers: fliersD, labelRight: 2061});

svg.append("text").attr("x", 1743).attr("y", 1826).attr("font-family", DEJAVU).attr("font-size", 43).attr("fill", "#000").text("Global Human");
const mod = svg.append("text").attr("x", 1743).attr("y", 1884).attr("font-family", DEJAVU).attr("font-size", 43).attr("fill", "#000");
mod.append("tspan").text("Modification ");
mod.append("tspan").attr("font-size", 17).text("(gHM)");

[["A", 22, 96], ["B", 1746, 89], ["C", 22, 1362], ["D", 1777, 1362]].forEach(([t, x, y]) => {
  svg.append("text").attr("x", x).attr("y", y).attr("font-family", "'Open Sans', sans-serif")
    .attr("font-weight", 700).attr("font-size", 68).attr("fill", "#000").text(t);
});
</script>
</body></html>
